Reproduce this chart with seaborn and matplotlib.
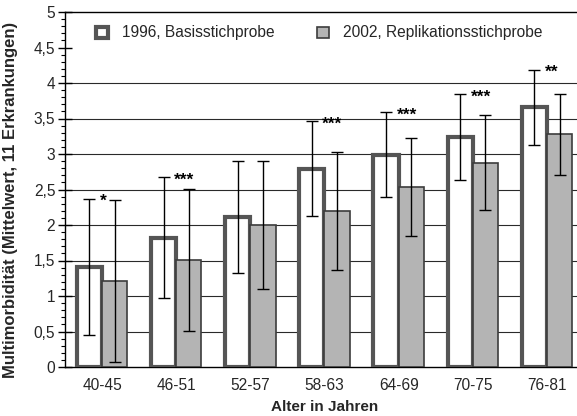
import numpy as np
import pandas as pd
import matplotlib
matplotlib.use("Agg")
import matplotlib.pyplot as plt
import matplotlib.patches as mpatches
from matplotlib.ticker import FixedLocator, MultipleLocator
import seaborn as sns

# ---- data ----
age_groups = ["40-45", "46-51", "52-57", "58-63", "64-69", "70-75", "76-81"]
series_labels = ["1996, Basisstichprobe", "2002, Replikationsstichprobe"]
mean_1996 = [1.41, 1.82, 2.11, 2.79, 2.99, 3.24, 3.66]
sd_1996 = [0.96, 0.85, 0.79, 0.67, 0.60, 0.60, 0.53]
mean_2002 = [1.21, 1.51, 2.00, 2.20, 2.54, 2.88, 3.28]
sd_2002 = [1.14, 1.00, 0.90, 0.83, 0.69, 0.67, 0.57]
significance = ["*", "***", "", "***", "***", "***", "**"]
y_ticks = [0, 0.5, 1, 1.5, 2, 2.5, 3, 3.5, 4, 4.5, 5]
y_tick_labels = ["0", "0,5", "1", "1,5", "2", "2,5", "3", "3,5", "4", "4,5", "5"]
x_label = "Alter in Jahren"
y_label = "Multimorbidität (Mittelwert, 11 Erkrankungen)"

sns.set_theme(style="white")
plt.rcParams["font.family"] = ["Liberation Sans", "DejaVu Sans"]

df = pd.DataFrame({
    "Alter": age_groups * 2,
    "Mittelwert": mean_1996 + mean_2002,
    "Gruppe": [series_labels[0]] * len(age_groups) + [series_labels[1]] * len(age_groups),
})

W, H = 577, 416
fig = plt.figure(figsize=(W / 100, H / 100), dpi=100)
ax = fig.add_axes([65 / W, 1 - 367 / H, 519 / W, 355 / H])

edge1, fill2, edge2 = "#555555", "#b4b4b4", "#3c3c3c"
sns.barplot(data=df, x="Alter", y="Mittelwert", hue="Gruppe",
            hue_order=series_labels, order=age_groups,
            palette=["white", fill2], saturation=1, width=0.68, gap=0,
            errorbar=None, legend=False, ax=ax, zorder=3)

styles = [dict(edgecolor=edge1, linewidth=3.0), dict(edgecolor=edge2, linewidth=1.2)]
for cont, st in zip(ax.containers, styles):
    for p in cont.patches:
        p.set_edgecolor(st["edgecolor"])
        p.set_linewidth(st["linewidth"])

# error bars
for cont, means, sds in zip(ax.containers, [mean_1996, mean_2002], [sd_1996, sd_2002]):
    xs = [p.get_x() + p.get_width() / 2 for p in cont.patches]
    ax.errorbar(xs, means, yerr=sds, fmt="none", ecolor="black",
                elinewidth=1.0, capsize=4, capthick=1.0, zorder=5)

# significance stars
for i, s in enumerate(significance):
    if s:
        ax.text(i - 0.03, mean_1996[i] + sd_1996[i] - 0.04, s, ha="left", va="center",
                fontsize=12.5, fontweight="bold", color="black", zorder=6)

ax.set_xlim(-0.5, 6.5)
ax.set_ylim(0, 5)
ax.yaxis.set_major_locator(FixedLocator(y_ticks))
ax.set_yticklabels(y_tick_labels)
ax.yaxis.set_minor_locator(MultipleLocator(0.1))

ax.set_axisbelow(True)
ax.yaxis.grid(True, which="major", color="#2a2a2a", linewidth=0.8)
for gl, t in zip(ax.get_ygridlines(), y_ticks):
    if t >= 4.5 or t == 0:
        gl.set_visible(False)

for side in ["left", "bottom", "top"]:
    ax.spines[side].set_visible(True)
    ax.spines[side].set_color("black")
    ax.spines[side].set_linewidth(1.0)
ax.spines["right"].set_visible(False)

ax.tick_params(axis="y", which="major", direction="inout", length=10, width=1.0,
               color="black", labelsize=11.2, pad=2, left=True)
ax.tick_params(axis="y", which="minor", direction="out", length=3, width=0.8,
               color="black", left=True)
ax.tick_params(axis="x", length=0, labelsize=11.2, pad=8)

ax.set_xlabel(x_label, fontsize=11, fontweight="bold", labelpad=5)
ax.set_ylabel(y_label, fontsize=12.0, fontweight="bold", labelpad=6)
ax.yaxis.set_label_coords(18 / W, 1 - 200 / H, transform=fig.transFigure)

handles = [mpatches.Patch(facecolor="white", edgecolor=edge1, linewidth=3.0),
           mpatches.Patch(facecolor=fill2, edgecolor=edge2, linewidth=1.2)]
leg = fig.legend(handles, series_labels, loc="center left",
                 bbox_to_anchor=(96 / W, 1 - 33 / H), ncol=2, frameon=False,
                 fontsize=11.2, handlelength=0.75, handletextpad=0.9,
                 columnspacing=2.75, borderpad=0, borderaxespad=0)

fig.savefig("out.png", dpi=100)
